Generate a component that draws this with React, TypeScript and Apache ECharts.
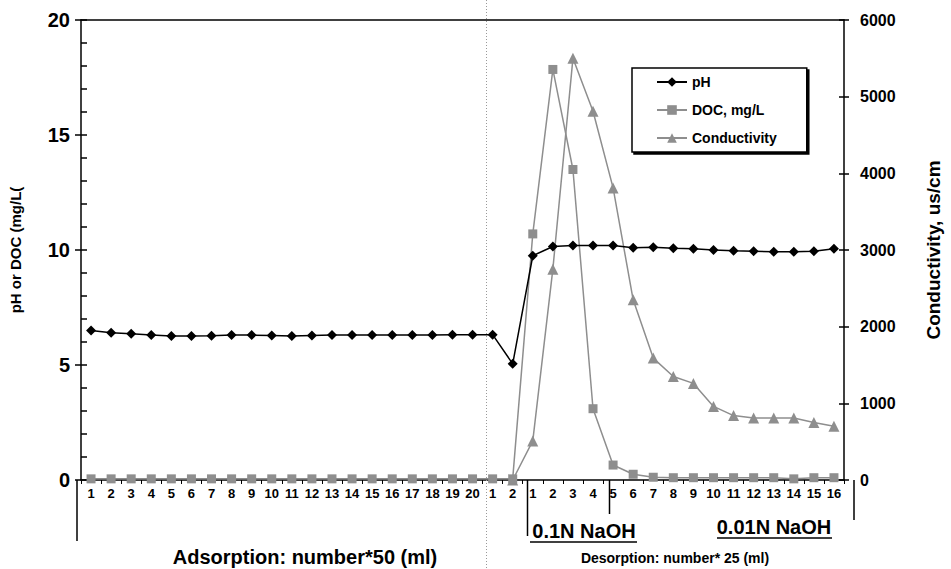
import React, { useEffect, useRef } from "react";
import * as echarts from "echarts";

const adsorptionLabels = ["1","2","3","4","5","6","7","8","9","10","11","12","13","14","15","16","17","18","19","20"];
const transitionLabels = ["1","2"];
const desorptionLabels = ["1","2","3","4","5","6","7","8","9","10","11","12","13","14","15","16"];
const tickLabels = [...adsorptionLabels, ...transitionLabels, ...desorptionLabels];

const phValues = [
  6.5, 6.4, 6.36, 6.3, 6.26, 6.26, 6.27, 6.3, 6.3, 6.28, 6.26, 6.28, 6.3, 6.3, 6.3, 6.3, 6.3, 6.3, 6.32, 6.32,
  6.32, 5.05,
  9.75, 10.15, 10.2, 10.2, 10.2, 10.1, 10.12, 10.08, 10.05, 10.0, 9.97, 9.95, 9.92, 9.92, 9.95, 10.05,
];
const docValues = [
  0.05, 0.05, 0.05, 0.05, 0.05, 0.05, 0.05, 0.05, 0.05, 0.05, 0.05, 0.05, 0.05, 0.05, 0.05, 0.05, 0.05, 0.05, 0.05, 0.05,
  0.05, 0.05,
  10.7, 17.85, 13.5, 3.1, 0.65, 0.25, 0.12, 0.1, 0.1, 0.1, 0.1, 0.1, 0.1, 0.05, 0.1, 0.1,
];
const conductivityValues = [
  null, null, null, null, null, null, null, null, null, null, null, null, null, null, null, null, null, null, null, null,
  null, 0,
  510, 2750, 5500, 4810, 3810, 2350, 1590, 1350, 1260, 960, 840, 810, 810, 810, 750, 700,
];

const seriesNames = ["pH", "DOC, mg/L", "Conductivity"];
const leftTitle = "pH or DOC (mg/L(";
const rightTitle = "Conductivity, us/cm";

const W = 951;
const H = 569;
const GRID_LEFT = 77;
const GRID_RIGHT = 97;
const GRID_TOP = 20;
const GRID_BOTTOM = 89;
const FONT = "'Liberation Sans', Arial, sans-serif";
const GRAY = "#8e8e8e";

export default function App() {
  const ref = useRef<HTMLDivElement>(null);
  useEffect(() => {
    if (!ref.current) return;
    const chart = echarts.init(ref.current, null, { renderer: "svg" });
    const plotW = W - GRID_LEFT - GRID_RIGHT;
    const band = plotW / tickLabels.length;
    const axisY = H - GRID_BOTTOM;
    const rightX = W - GRID_RIGHT;
    const bx = (i: number) => Math.round(GRID_LEFT + i * band) + 0.5;

    chart.setOption({
      animation: false,
      backgroundColor: "#fff",
      textStyle: { fontFamily: FONT },
      grid: { left: GRID_LEFT, right: GRID_RIGHT, top: GRID_TOP, bottom: GRID_BOTTOM, containLabel: false },
      legend: {
        orient: "vertical",
        left: 632,
        top: 68,
        padding: [7, 30, 7, 24],
        itemGap: 14,
        itemWidth: 30,
        itemHeight: 12,
        backgroundColor: "#fff",
        borderColor: "#000",
        borderWidth: 1.5,
        shadowColor: "#000",
        shadowBlur: 0,
        shadowOffsetX: 2,
        shadowOffsetY: 2,
        textStyle: { fontFamily: FONT, fontWeight: "bold", fontSize: 14, color: "#000" },
        data: seriesNames,
      },
      xAxis: [
        {
          type: "category",
          data: tickLabels.map((_, i) => String(i)),
          boundaryGap: true,
          axisLine: { lineStyle: { color: "#000", width: 1.5 } },
          axisTick: { show: true, interval: 0, length: 4, lineStyle: { color: "#000" } },
          axisLabel: {
            interval: 0,
            margin: 7,
            color: "#000",
            fontFamily: FONT,
            fontWeight: "bold",
            fontSize: 13,
            formatter: (v: string) => tickLabels[Number(v)],
          },
          splitLine: { show: false },
        },
        {
          type: "value",
          position: "top",
          min: 0,
          max: 1,
          axisLine: { show: true, onZero: false, lineStyle: { color: "#000", width: 1.5 } },
          axisTick: { show: false },
          axisLabel: { show: false },
          splitLine: { show: false },
        },
      ],
      yAxis: [
        {
          type: "value",
          position: "left",
          min: 0,
          max: 20,
          interval: 5,
          name: leftTitle,
          nameLocation: "middle",
          nameRotate: 90,
          nameGap: 58,
          nameTextStyle: { fontFamily: FONT, fontWeight: "bold", fontSize: 15, color: "#000" },
          axisLine: { show: true, lineStyle: { color: "#000", width: 1.5 } },
          axisTick: { show: true, inside: true, length: 6, lineStyle: { color: "#000", width: 1.5 } },
          minorTick: { show: true, splitNumber: 5, length: 6, lineStyle: { color: "#000", width: 1.5 } },
          axisLabel: { margin: 11, color: "#000", fontFamily: FONT, fontWeight: "bold", fontSize: 20 },
          splitLine: { show: false },
        },
        {
          type: "value",
          position: "right",
          min: 0,
          max: 6000,
          interval: 1000,
          name: rightTitle,
          nameLocation: "middle",
          nameRotate: 90,
          nameGap: 80,
          nameTextStyle: { fontFamily: FONT, fontWeight: "bold", fontSize: 19, color: "#000" },
          axisLine: { show: true, lineStyle: { color: "#000", width: 1.5 } },
          axisTick: { show: true, inside: false, length: 5, lineStyle: { color: "#000", width: 1.5 } },
          axisLabel: {
            margin: 16,
            color: "#000",
            fontFamily: FONT,
            fontWeight: "bold",
            fontSize: 16,
            formatter: (v: number) => String(v),
          },
          splitLine: { show: false },
        },
        {
          type: "value",
          position: "left",
          min: 0,
          max: 20,
          interval: 5,
          axisLine: { show: false },
          axisTick: { show: true, inside: false, length: 6, lineStyle: { color: "#000", width: 1.5 } },
          axisLabel: { show: false },
          splitLine: { show: false },
        },
        {
          type: "value",
          position: "right",
          min: 0,
          max: 6000,
          interval: 1000,
          axisLine: { show: false },
          axisTick: { show: true, inside: true, length: 5, lineStyle: { color: "#000", width: 1.5 } },
          axisLabel: { show: false },
          splitLine: { show: false },
        },
      ],
      series: [
        {
          name: seriesNames[2],
          type: "line",
          yAxisIndex: 1,
          data: conductivityValues,
          connectNulls: false,
          symbol: "triangle",
          symbolSize: 11,
          z: 2,
          lineStyle: { color: GRAY, width: 1.5 },
          itemStyle: { color: GRAY },
        },
        {
          name: seriesNames[1],
          type: "line",
          yAxisIndex: 0,
          data: docValues,
          symbol: "rect",
          symbolSize: 9,
          z: 3,
          lineStyle: { color: GRAY, width: 1.5 },
          itemStyle: { color: GRAY },
        },
        {
          name: seriesNames[0],
          type: "line",
          yAxisIndex: 0,
          data: phValues,
          symbol: "diamond",
          symbolSize: 10,
          z: 4,
          lineStyle: { color: "#000", width: 1.5 },
          itemStyle: { color: "#000" },
        },
      ],
      graphic: [
        { type: "line", shape: { x1: bx(20), y1: 0, x2: bx(20), y2: H }, style: { stroke: "#999", lineWidth: 1, lineDash: [1, 2] }, z: 1 },
        { type: "line", shape: { x1: GRID_LEFT, y1: axisY, x2: GRID_LEFT, y2: 541 }, style: { stroke: "#000", lineWidth: 1.5 } },
        { type: "line", shape: { x1: rightX, y1: axisY, x2: rightX, y2: 520 }, style: { stroke: "#000", lineWidth: 1.5 } },
        { type: "line", shape: { x1: bx(22), y1: axisY, x2: bx(22), y2: 536 }, style: { stroke: "#000", lineWidth: 1.5 } },
        { type: "line", shape: { x1: bx(26), y1: axisY, x2: bx(26), y2: 514 }, style: { stroke: "#000", lineWidth: 1.5 } },
        { type: "text", x: 584, y: 531, style: { text: "0.1N NaOH", font: `bold 20px ${FONT}`, fill: "#000", align: "center", verticalAlign: "middle" } },
        { type: "line", shape: { x1: 530, y1: 542, x2: 637, y2: 542 }, style: { stroke: "#000", lineWidth: 1.5 } },
        { type: "text", x: 774, y: 527, style: { text: "0.01N NaOH", font: `bold 20px ${FONT}`, fill: "#000", align: "center", verticalAlign: "middle" } },
        { type: "line", shape: { x1: 717, y1: 538, x2: 832, y2: 538 }, style: { stroke: "#000", lineWidth: 1.5 } },
        { type: "text", x: 305, y: 557, style: { text: "Adsorption: number*50 (ml)", font: `bold 20px ${FONT}`, fill: "#000", align: "center", verticalAlign: "middle" } },
        { type: "text", x: 675, y: 558, style: { text: "Desorption: number* 25 (ml)", font: `bold 14px ${FONT}`, fill: "#000", align: "center", verticalAlign: "middle" } },
      ],
    });
    return () => chart.dispose();
  }, []);
  return (
    <div
      ref={ref}
      style={{ position: "fixed", left: 0, top: 0, width: W, height: H, background: "#fff" }}
    />
  );
}
